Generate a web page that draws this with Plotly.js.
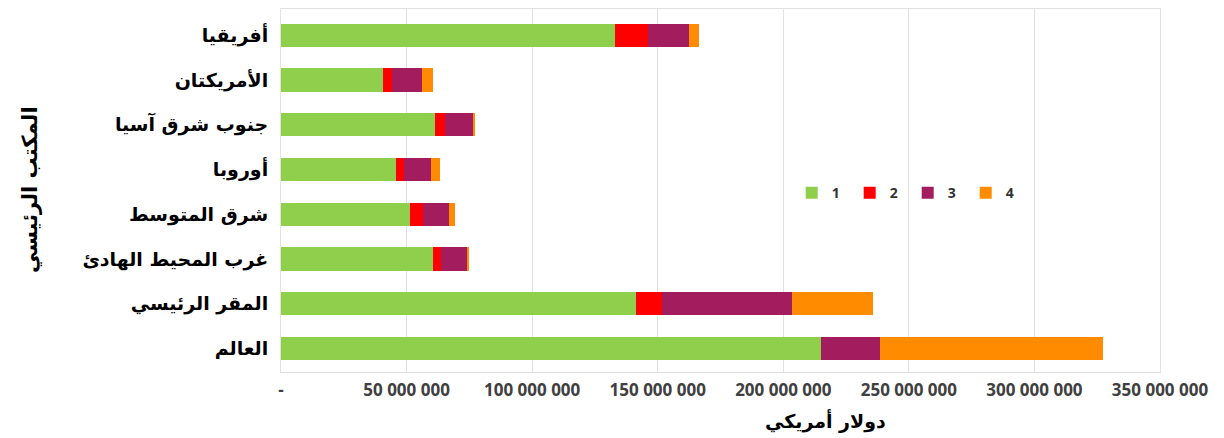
<!DOCTYPE html>
<html>
<head>
<meta charset="utf-8">
<script src="https://cdn.plot.ly/plotly-3.0.1.min.js"></script>
<style>html,body{margin:0;padding:0;background:#fff;}#chart{width:1224px;height:438px;}</style>
</head>
<body>
<div id="chart"></div>
<script>
const categories = ["أفريقيا", "الأمريكتان", "جنوب شرق آسيا", "أوروبا", "شرق المتوسط", "غرب المحيط الهادئ", "المقر الرئيسي", "العالم"];
const seriesNames = ["1", "2", "3", "4"];
const series1 = [133100000, 40500000, 61200000, 45800000, 51400000, 60400000, 141400000, 215100000];
const series2 = [13100000, 3600000, 4100000, 3300000, 5000000, 3300000, 10400000, 0];
const series3 = [16300000, 12200000, 11100000, 10700000, 10500000, 10500000, 51500000, 23500000];
const series4 = [4000000, 4300000, 900000, 3500000, 2500000, 800000, 32600000, 88900000];
const tickValues = [0, 50000000, 100000000, 150000000, 200000000, 250000000, 300000000, 350000000];
const tickLabels = ["-", "50 000 000", "100 000 000", "150 000 000", "200 000 000", "250 000 000", "300 000 000", "350 000 000"];
const xTitle = "دولار أمريكي";
const yTitle = "المكتب الرئيسي";

const colors = ["#8fcf4c", "#ff0000", "#a31c5e", "#ff8c00"];
const allSeries = [series1, series2, series3, series4];

const traces = allSeries.map((vals, i) => ({
  type: "bar",
  orientation: "h",
  name: seriesNames[i],
  x: vals,
  y: categories,
  marker: {color: colors[i], line: {width: 0}},
  hoverinfo: "x+name"
}));

const layout = {
  width: 1224,
  height: 438,
  barmode: "stack",
  bargap: 0.48,
  paper_bgcolor: "#ffffff",
  plot_bgcolor: "#ffffff",
  margin: {l: 281, r: 64, t: 9, b: 66, pad: 0},
  showlegend: true,
  legend: {
    orientation: "h",
    x: 0.581, xanchor: "left",
    y: 0.493, yanchor: "middle",
    font: {family: "Open Sans, Arial, sans-serif", size: 14, color: "#333333", weight: "bold"},
    bgcolor: "rgba(0,0,0,0)",
    traceorder: "normal",
    entrywidth: 13,
    entrywidthmode: "pixels"
  },
  xaxis: {
    range: [0, 350000000],
    tickvals: tickValues,
    ticktext: tickLabels,
    tickfont: {family: "Open Sans, Arial, sans-serif", size: 17, color: "#404040", weight: "bold"},
    showgrid: true,
    gridcolor: "#e2e2e2",
    gridwidth: 1,
    zeroline: false,
    showline: true,
    linecolor: "#e2e2e2",
    mirror: true,
    ticks: "",
    ticklabelstandoff: 3,
    fixedrange: true
  },
  yaxis: {
    type: "category",
    categoryorder: "array",
    categoryarray: categories,
    range: [7.53, -0.59],
    autorange: false,
    tickfont: {family: "DejaVu Sans, sans-serif", size: 19, color: "#000000", weight: "bold"},
    showgrid: false,
    zeroline: false,
    showline: true,
    linecolor: "#e2e2e2",
    mirror: true,
    ticks: "",
    ticklabelstandoff: 8,
    fixedrange: true
  },
  annotations: [
    {
      text: xTitle, xref: "paper", yref: "paper",
      x: (825 - 281) / 879, y: -0.135, xanchor: "center", yanchor: "middle",
      showarrow: false,
      font: {family: "DejaVu Sans, sans-serif", size: 19, color: "#000000", weight: "bold"}
    },
    {
      text: yTitle, xref: "paper", yref: "paper",
      x: -(281 - 30) / 879, y: (372 - 190) / 363, xanchor: "center", yanchor: "middle",
      textangle: -90, showarrow: false,
      font: {family: "DejaVu Sans, sans-serif", size: 21, color: "#000000", weight: "bold"}
    }
  ]
};

Plotly.newPlot("chart", traces, layout, {displayModeBar: false, staticPlot: true});
</script>
</body>
</html>
